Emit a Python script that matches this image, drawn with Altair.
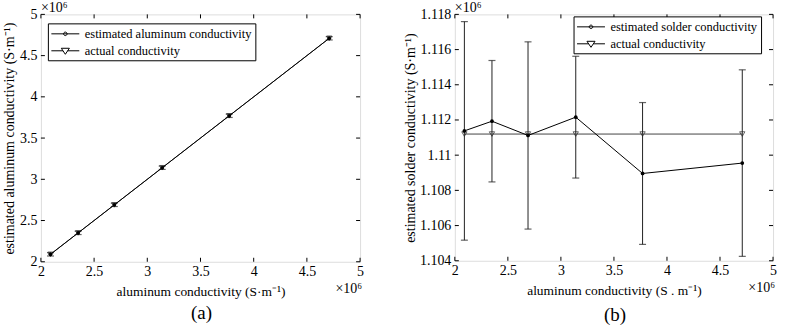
import altair as alt
import pandas as pd

# ---------------- data (values in units of 10^6 S/m) ----------------
x_vals = [2.09, 2.35, 2.69, 3.14, 3.77, 4.71]

al_est = [2.09, 2.35, 2.69, 3.14, 3.77, 4.71]
al_err = [0.02, 0.02, 0.02, 0.02, 0.02, 0.02]
al_act = [2.09, 2.35, 2.69, 3.14, 3.77, 4.71]

so_est = [1.11138, 1.11193, 1.11112, 1.11216, 1.10896, 1.10955]
so_err = [0.00621, 0.00345, 0.00532, 0.00346, 0.00403, 0.00530]
so_act = [1.1112, 1.1112, 1.1112, 1.1112, 1.1112, 1.1112]

x_ticks = [2, 2.5, 3, 3.5, 4, 4.5, 5]
al_yticks = [2, 2.5, 3, 3.5, 4, 4.5, 5]
so_yticks = [1.104, 1.106, 1.108, 1.11, 1.112, 1.114, 1.116, 1.118]

al_names = ["estimated aluminum conductivity", "actual conductivity"]
so_names = ["estimated solder conductivity", "actual conductivity"]

al_xtitle = "aluminum conductivity (S·m⁻¹)"
so_xtitle = "aluminum conductivity (S . m⁻¹)"
al_ytitle = "estimated aluminum conductivity (S·m⁻¹)"
so_ytitle = "estimated solder conductivity (S·m⁻¹)"
exp_label = ["×10⁶"]
captions = ["(a)", "(b)"]

FONT = "Liberation Serif"
ERR = "#222222"

PATH_DOT = ("M-2,0L2,0M-0.25,0A0.25,0.25,0,1,0,0.25,0"
            "A0.25,0.25,0,1,0,-0.25,0Z")
PATH_TRI = ("M-2,0L-0.33,0M0.33,0L2,0"
            "M-0.58,-0.36L0.58,-0.36L0,0.5Z")


def panel(est, err, act, yticks, ydom, names, xtitle, ytitle, yfmt,
          W, H, lx, ly, cap, cap_y, ytp, pin, field):
    df = pd.DataFrame({
        "x": x_vals,
        "est": est,
        "lo": [e - d for e, d in zip(est, err)],
        "hi": [e + d for e, d in zip(est, err)],
        "act": act,
    })
    xs = alt.Scale(domain=[2, 5], nice=False, zero=False)
    ys = alt.Scale(domain=ydom, nice=False, zero=False)
    xa = alt.Axis(values=x_ticks, format="~g", title=xtitle, grid=False,
                  domain=False, ticks=False, labelPadding=3,
                  labelFont=FONT, labelFontSize=14, labelColor="black",
                  titleFont=FONT, titleFontSize=13.5, titleFontWeight="normal",
                  titleColor="black", titlePadding=6, labelFlush=False)
    ya = alt.Axis(values=yticks, format=yfmt, title=ytitle, grid=False,
                  domain=False, ticks=False, labelPadding=4,
                  labelFont=FONT, labelFontSize=14, labelColor="black",
                  titleFont=FONT, titleFontSize=14, titleFontWeight="normal",
                  titleColor="black", titlePadding=ytp, labelFlush=False)

    def X(f="x"):
        return alt.X(f + ":Q", scale=xs, axis=xa)

    def Y(f):
        return alt.Y(f + ":Q", scale=ys, axis=ya)

    base = alt.Chart(df)
    bars = base.mark_rule(color=ERR, strokeWidth=1).encode(
        x=X(), y=Y("lo"), y2="hi:Q")
    cap_lo = base.mark_tick(orient="horizontal", size=7, thickness=1.2,
                            color=ERR).encode(x=X(), y=Y("lo"))
    cap_hi = base.mark_tick(orient="horizontal", size=7, thickness=1.2,
                            color=ERR).encode(x=X(), y=Y("hi"))
    act_line = base.mark_line(color="#444", strokeWidth=1).encode(
        x=X(), y=Y("act"))
    act_pts = base.mark_point(shape="triangle-down", size=28, filled=False,
                              color="#222", strokeWidth=1).encode(
        x=X(), y=Y("act"))
    est_line = base.mark_line(color="black", strokeWidth=1).encode(
        x=X(), y=Y("est"))
    est_pts = base.mark_point(shape="circle", size=14, filled=True,
                              color="black", opacity=1).encode(
        x=X(), y=Y("est"))

    leg_df = pd.DataFrame({field: names, "x": [2, 2], "y": [ydom[0]] * 2})
    legend = alt.Chart(leg_df).transform_filter("false").mark_point(
        filled=False, color="black", strokeWidth=1, opacity=1).encode(
        x=X(), y=Y("y"),
        shape=alt.Shape(field + ":N",
                        scale=alt.Scale(domain=names,
                                        range=[PATH_DOT, PATH_TRI]),
                        legend=alt.Legend(
                            orient="none", legendX=lx, legendY=ly,
                            title=None, strokeColor="black", fillColor="white",
                            padding=3, symbolSize=196, symbolOffset=7,
                            symbolStrokeWidth=1, symbolStrokeColor="black",
                            labelFont=FONT, labelFontSize=12.5,
                            labelColor="black", labelOffset=12,
                            rowPadding=3, labelLimit=400)))

    xt = pd.DataFrame({"v": x_ticks})
    yt = pd.DataFrame({"v": yticks})
    tk = dict(color="black", strokeWidth=1)
    t_bot = alt.Chart(xt).mark_rule(**tk).encode(
        x=X("v"), y=alt.value(H), y2=alt.value(H - 4))
    t_top = alt.Chart(xt).mark_rule(**tk).encode(
        x=X("v"), y=alt.value(0), y2=alt.value(4))
    t_lft = alt.Chart(yt).mark_rule(**tk).encode(
        y=Y("v"), x=alt.value(0), x2=alt.value(4))
    t_rgt = alt.Chart(yt).mark_rule(**tk).encode(
        y=Y("v"), x=alt.value(W), x2=alt.value(W - 4))

    ex = pd.DataFrame({"t": exp_label})
    ex_top = alt.Chart(ex).mark_text(font=FONT, fontSize=14, align="left",
                                     baseline="alphabetic", color="black").encode(
        x=alt.value(0), y=alt.value(-2), text="t:N")
    ex_bot = alt.Chart(ex).mark_text(font=FONT, fontSize=14, align="right",
                                     baseline="alphabetic", color="black").encode(
        x=alt.value(W + 2), y=alt.value(H + 31), text="t:N")
    cp = alt.Chart(pd.DataFrame({"t": [cap]})).mark_text(
        font=FONT, fontSize=19, align="center", baseline="alphabetic",
        color="black").encode(x=alt.value(W / 2 + 1), y=alt.value(cap_y),
                              text="t:N")

    # invisible pins fixing the page corners
    pin_rect = alt.Chart(pd.DataFrame({"p": [0]})).mark_rect(
        color="white", opacity=0.01).encode(
        x=alt.value(pin[0]), x2=alt.value(pin[0] + 1),
        y=alt.value(pin[1]), y2=alt.value(pin[1] + 1))

    return alt.layer(pin_rect, bars, cap_lo, cap_hi, act_line, act_pts,
                     est_line, est_pts, legend, t_bot, t_top, t_lft, t_rgt,
                     ex_top, ex_bot, cp).properties(width=W, height=H)


pa = panel(al_est, al_err, al_act, al_yticks, [2, 5], al_names,
           al_xtitle, al_ytitle, "~g", 320, 248, 7, 9, captions[0], 305, 3,
           (-40, -13), "lga")
pb = panel(so_est, so_err, so_act, so_yticks, [1.104, 1.118], so_names,
           so_xtitle, so_ytitle, ".3~f", 319, 247, 119, 2, captions[1], 307, 2,
           (319 + 11, 317 - 1), "lgb")

chart = alt.hconcat(pa, pb, spacing=95, bounds="flush").resolve_scale(
    x="independent", y="independent", shape="independent"
).resolve_legend(shape="independent").resolve_axis(
    x="independent", y="independent"
).properties(
    padding=0,
).configure_view(stroke="black", strokeWidth=1.3).configure_axis(
    labelFont=FONT, titleFont=FONT
).configure_legend(labelFont=FONT).configure(background="white")

chart.save("out.html", embed_options={"renderer": "svg", "actions": False})
